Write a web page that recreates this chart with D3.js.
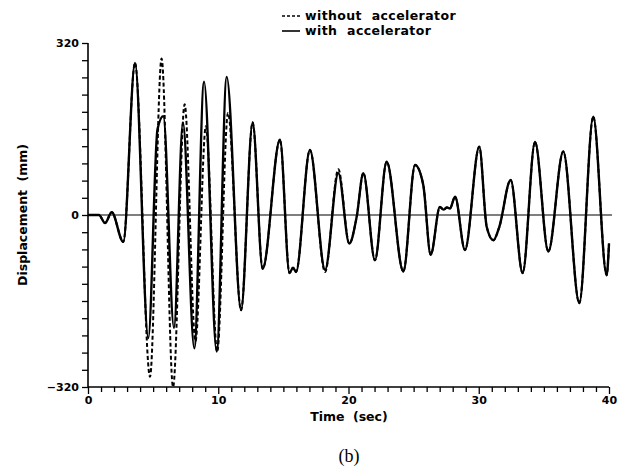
<!DOCTYPE html>
<html>
<head>
<meta charset="utf-8">
<script src="https://cdn.jsdelivr.net/npm/d3@7"></script>
<style>
  html, body { margin: 0; padding: 0; background: #fff; }
  svg { display: block; }
  .lab { font-family: "DejaVu Sans", sans-serif; font-weight: bold; fill: #000; }
</style>
</head>
<body>
<svg id="chart" width="619" height="475"></svg>
<script>
// ---- data ----
const solidTime = [0, 0.84, 1.31, 1.82, 2.71, 3.61, 4.63, 5.34, 5.78, 6.60, 7.29, 8.16, 8.91, 9.88, 10.65,
  11.75, 12.64, 13.41, 14.74, 15.47, 15.74, 15.97, 17.04, 18.20, 19.22, 20.06, 20.63, 21.14, 22.03, 22.93,
  24.21, 25.11, 25.74, 26.31, 27.02, 27.29, 27.56, 27.79, 28.18, 28.94, 30.04, 30.61, 31.12, 31.58, 32.45,
  33.37, 34.32, 35.34, 36.49, 37.72, 38.79, 39.82, 40.0];
const solidDisp = [0, 0, -15, 5, -50, 283, -229, 160, 184, -210, 172, -248, 248, -254, 257,
  -177, 172, -100, 140, -108, -98, -106, 121, -102, 78, -53, -3, 78, -84, 99,
  -105, 93, 56, -74, 15, 10, 14, 12, 34, -65, 127, -22, -47, -22, 65,
  -108, 136, -68, 118, -164, 183, -112, -53];

const dashedTime = [0, 0.84, 1.31, 1.82, 2.71, 3.61, 4.76, 5.65, 6.53, 7.42, 8.25, 9.05, 9.92, 10.75,
  11.75, 12.64, 13.41, 14.74, 15.47, 15.74, 15.97, 17.04, 18.20, 19.22, 20.06, 20.63, 21.14, 22.03, 22.93,
  24.21, 25.11, 25.74, 26.31, 27.02, 27.29, 27.56, 27.79, 28.18, 28.94, 30.04, 30.61, 31.12, 31.58, 32.45,
  33.37, 34.32, 35.34, 36.49, 37.72, 38.79, 39.82, 40.0];
const dashedDisp = [0, 0, -15, 5, -50, 283, -301, 291, -320, 206, -235, 165, -254, 190,
  -177, 172, -100, 140, -108, -98, -106, 121, -106, 85, -53, -3, 78, -84, 99,
  -105, 93, 56, -74, 15, 10, 14, 12, 34, -65, 127, -22, -47, -22, 65,
  -108, 136, -68, 118, -164, 183, -112, -53];

const xTickLabels = [0, 10, 20, 30, 40];
const yTickLabels = [-320, 0, 320];
const legendLabels = ["without accelerator", "with accelerator"];

// ---- drawing ----
const svg = d3.select("#chart");
const x = d3.scaleLinear().domain([0, 40]).range([88, 609]);
const y = d3.scaleLinear().domain([-320, 320]).range([387, 43]);

// zero line
svg.append("line")
  .attr("x1", x(0)).attr("x2", x(40) + 3)
  .attr("y1", y(0)).attr("y2", y(0))
  .attr("stroke", "#000").attr("stroke-width", 1.2);

const line = d3.line().x(d => x(d[0])).y(d => y(d[1])).curve(d3.curveMonotoneX);
const dashedData = dashedTime.map((t, i) => [t, dashedDisp[i]]);
const solidData = solidTime.map((t, i) => [t, solidDisp[i]]);

svg.append("path").datum(dashedData)
  .attr("d", line).attr("fill", "none")
  .attr("stroke", "#000").attr("stroke-width", 2)
  .attr("stroke-dasharray", "4,2.5");

svg.append("path").datum(solidData)
  .attr("d", line).attr("fill", "none")
  .attr("stroke", "#000").attr("stroke-width", 2.4)
  .attr("stroke-linejoin", "round");

// y axis
const yAxis = d3.axisLeft(y)
  .tickValues(d3.range(-320, 321, 32))
  .tickSize(6).tickPadding(3)
  .tickFormat(d => yTickLabels.includes(d) ? String(d).replace("-", "\u2212") : "");
const gy = svg.append("g").attr("transform", `translate(${x(0)},0)`).call(yAxis);
gy.select(".domain").attr("stroke-width", 1.6).attr("d", `M0,${y(-320)}V${y(320)}`);
gy.selectAll(".tick line").attr("stroke-width", 1.3);
gy.selectAll("text").attr("class", "lab").style("font-size", "11px");

// x axis
const xAxis = d3.axisBottom(x)
  .tickValues(d3.range(0, 41, 1))
  .tickSize(5).tickPadding(4)
  .tickFormat(d => xTickLabels.includes(d) ? String(d) : "");
const gx = svg.append("g").attr("transform", `translate(0,${y(-320)})`).call(xAxis);
gx.select(".domain").attr("stroke-width", 1.6).attr("d", `M${x(0)},0H${x(40)}`);
gx.selectAll(".tick line").attr("stroke-width", 1.3)
  .attr("y2", d => xTickLabels.includes(d) ? 7 : 5);
gx.selectAll("text").attr("class", "lab").style("font-size", "11px");

// axis titles
svg.append("text").attr("class", "lab")
  .attr("transform", `translate(27,${y(0)}) rotate(-90)`)
  .attr("text-anchor", "middle").style("font-size", "12.5px")
  .style("word-spacing", "4px")
  .text("Displacement (mm)");

svg.append("text").attr("class", "lab")
  .attr("x", 349).attr("y", 421).attr("text-anchor", "middle")
  .style("font-size", "12.5px").style("word-spacing", "4px")
  .text("Time (sec)");

svg.append("text")
  .attr("x", 349).attr("y", 462).attr("text-anchor", "middle")
  .style("font-family", "'Liberation Serif', serif").style("font-size", "18px")
  .text("(b)");

// legend
const legY = [16, 31];
legendLabels.forEach((lab, i) => {
  svg.append("line")
    .attr("x1", 282).attr("x2", 300).attr("y1", legY[i]).attr("y2", legY[i])
    .attr("stroke", "#000").attr("stroke-width", 1.6)
    .attr("stroke-dasharray", i === 0 ? "3,2" : null);
  svg.append("text").attr("class", "lab")
    .attr("x", 305).attr("y", legY[i] + 4)
    .style("font-size", "12.5px").style("word-spacing", "5px").style("letter-spacing", "0.4px")
    .text(lab);
});
</script>
</body>
</html>
